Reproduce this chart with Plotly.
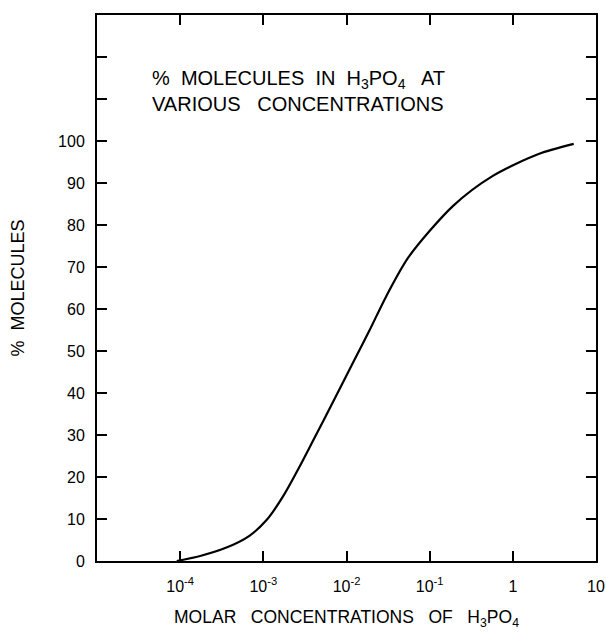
import plotly.graph_objects as go

# curve
conc = [9.1e-5, 1.74e-4, 3.6e-4, 6.8e-4, 1.1e-3, 1.74e-3, 2.7e-3, 4.0e-3, 6.9e-3,
        1.26e-2, 1.9e-2, 3.0e-2, 5.6e-2, 0.19, 0.575, 2.04, 5.4]
pct = [0.0, 1.2, 3.2, 6.0, 9.8, 15.5, 22.3, 28.8, 37.9,
       48.1, 55.0, 63.0, 72.4, 84.5, 91.7, 96.9, 99.3]

x_tickvals = [1e-4, 1e-3, 1e-2, 1e-1, 1, 10]
x_ticktext = ["10<sup>-4</sup>", "10<sup>-3</sup>", "10<sup>-2</sup>", "10<sup>-1</sup>", "1", "10"]
y_tickvals = [0, 10, 20, 30, 40, 50, 60, 70, 80, 90, 100, 110, 120]
y_ticktext = ["0", "10", "20", "30", "40", "50", "60", "70", "80", "90", "100", "", ""]

FONT = "Liberation Sans"

fig = go.Figure(
    go.Scatter(
        x=conc,
        y=pct,
        mode="lines",
        line=dict(color="black", width=2.2, shape="spline", smoothing=0.8),
        showlegend=False,
    )
)

fig.add_annotation(
    xref="paper", yref="paper", x=0.106, y=0.861, xanchor="left", yanchor="middle",
    text="%  MOLECULES  IN  H<sub>3</sub>PO<sub>4</sub>   AT<br>VARIOUS   CONCENTRATIONS",
    align="left", showarrow=False,
    font=dict(family=FONT, size=20, color="black"),
)

axis_style = dict(
    showline=True, linecolor="black", linewidth=2, mirror="ticks",
    ticks="inside", ticklen=10, tickwidth=2, tickcolor="black",
    showgrid=False, zeroline=False, automargin=False,
)

fig.update_layout(
    width=606, height=633,
    margin=dict(l=97, r=10, t=15, b=72),
    paper_bgcolor="white", plot_bgcolor="white",
    font=dict(family=FONT, color="black"),
    xaxis=dict(
        type="log", range=[-5, 1],
        tickvals=x_tickvals, ticktext=x_ticktext,
        tickfont=dict(size=16, family=FONT),
        ticklabelstandoff=10,
        title=dict(text="MOLAR   CONCENTRATIONS   OF   H<sub>3</sub>PO<sub>4</sub>",
                   font=dict(size=17.5, family=FONT), standoff=17),
        **axis_style,
    ),
    yaxis=dict(
        range=[0, 130],
        tickvals=y_tickvals, ticktext=y_ticktext,
        tickfont=dict(size=16, family=FONT),
        ticklabelstandoff=7,
        title=dict(text="%  MOLECULES", font=dict(size=18, family=FONT), standoff=29),
        **axis_style,
    ),
)

# drop the default body margin so the 606x633 figure fills the window exactly
fig.write_html(
    "out.html",
    config={"displayModeBar": False},
    post_script="document.body.style.margin='0';document.body.style.overflow='hidden';",
)
